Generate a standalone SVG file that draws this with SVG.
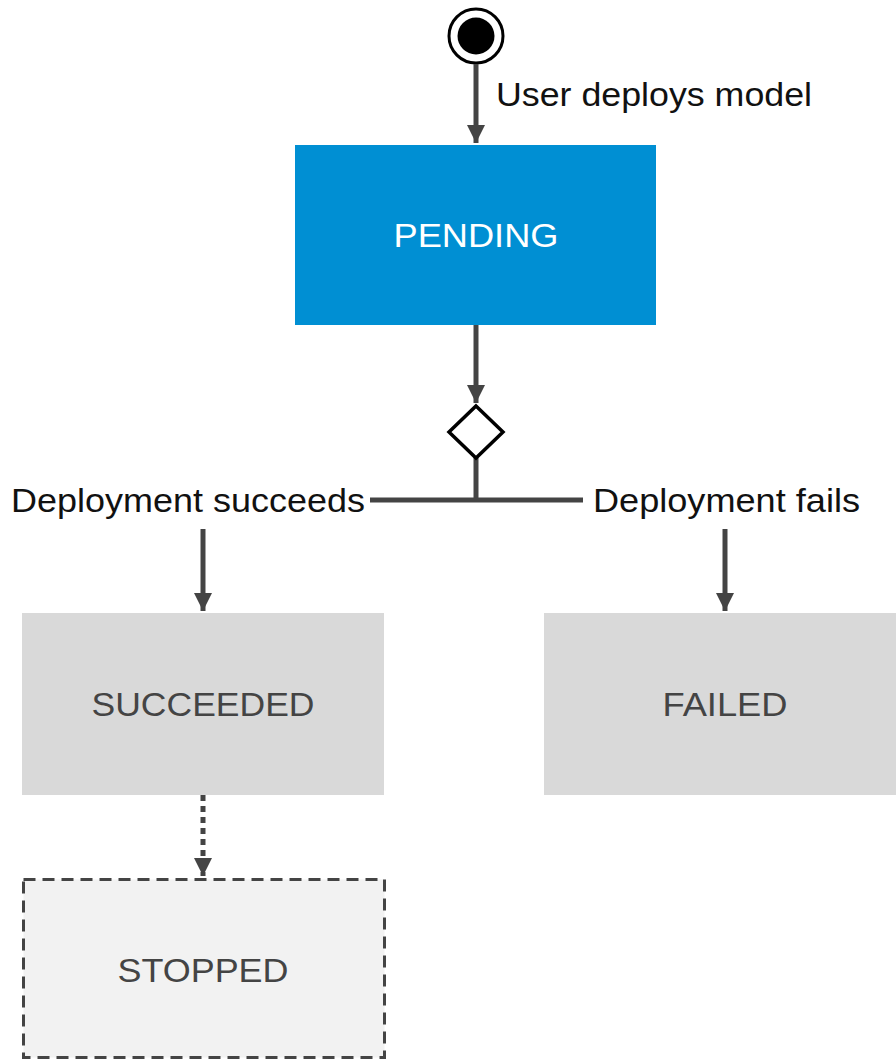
<svg xmlns="http://www.w3.org/2000/svg" width="896" height="1061" viewBox="0 0 896 1061">
<defs>
<style>
.lbl{font-family:"Liberation Sans",Arial,sans-serif;font-size:33px;fill:#111}
.nt{font-family:"Liberation Sans",Arial,sans-serif;font-size:33px;text-anchor:middle}
.edge{stroke:#444;stroke-width:5;fill:none}
</style>
<marker id="arr" markerUnits="userSpaceOnUse" markerWidth="20" markerHeight="20" viewBox="0 0 20 20" refX="18" refY="10" orient="auto">
<path d="M0,1 L18,10 L0,19 Z" fill="#444"/>
</marker>
</defs>
<rect width="896" height="1061" fill="#fff"/>
<g id="start">
<circle cx="476" cy="36" r="27" fill="#fff" stroke="#000" stroke-width="3"/>
<circle cx="476" cy="36" r="18.5" fill="#000"/>
</g>
<g id="connectors">
<line class="edge" x1="476" y1="64" x2="476" y2="143" marker-end="url(#arr)"/>
<line class="edge" x1="476" y1="325" x2="476" y2="403" marker-end="url(#arr)"/>
<line class="edge" x1="476" y1="458" x2="476" y2="500"/>
<line class="edge" x1="370" y1="500" x2="583" y2="500"/>
<line class="edge" x1="203" y1="529" x2="203" y2="611" marker-end="url(#arr)"/>
<line class="edge" x1="725" y1="529" x2="725" y2="611" marker-end="url(#arr)"/>
<line class="edge" x1="203" y1="795" x2="203" y2="876" stroke-width="6" stroke-dasharray="6 5" marker-end="url(#arr)"/>
<text class="lbl" x="496" y="106" textLength="316" lengthAdjust="spacingAndGlyphs">User deploys model</text>
<text class="lbl" x="11" y="512" textLength="354" lengthAdjust="spacingAndGlyphs">Deployment succeeds</text>
<text class="lbl" x="593" y="512" textLength="267" lengthAdjust="spacingAndGlyphs">Deployment fails</text>
</g>
<g id="pending">
<rect x="295" y="145" width="361" height="180" fill="#008fd3"/>
<text class="nt" x="476" y="247" fill="#fff" textLength="165" lengthAdjust="spacingAndGlyphs">PENDING</text>
</g>
<g id="decision">
<polygon points="476,406 503,432 476,458 449,432" fill="#fff" stroke="#000" stroke-width="3.5" stroke-linejoin="miter"/>
</g>
<g id="succeeded">
<rect x="22" y="613" width="362" height="182" fill="#d9d9d9"/>
<text class="nt" x="203" y="716" fill="#444" textLength="223" lengthAdjust="spacingAndGlyphs">SUCCEEDED</text>
</g>
<g id="failed">
<rect x="544" y="613" width="362" height="182" fill="#d9d9d9"/>
<text class="nt" x="725" y="716" fill="#444" textLength="125" lengthAdjust="spacingAndGlyphs">FAILED</text>
</g>
<g id="stopped">
<rect x="23.5" y="879.5" width="361" height="178" fill="#f2f2f2" stroke="#444" stroke-width="3" stroke-dasharray="12 7"/>
<text class="nt" x="203" y="982" fill="#444" textLength="171" lengthAdjust="spacingAndGlyphs">STOPPED</text>
</g>
</svg>
